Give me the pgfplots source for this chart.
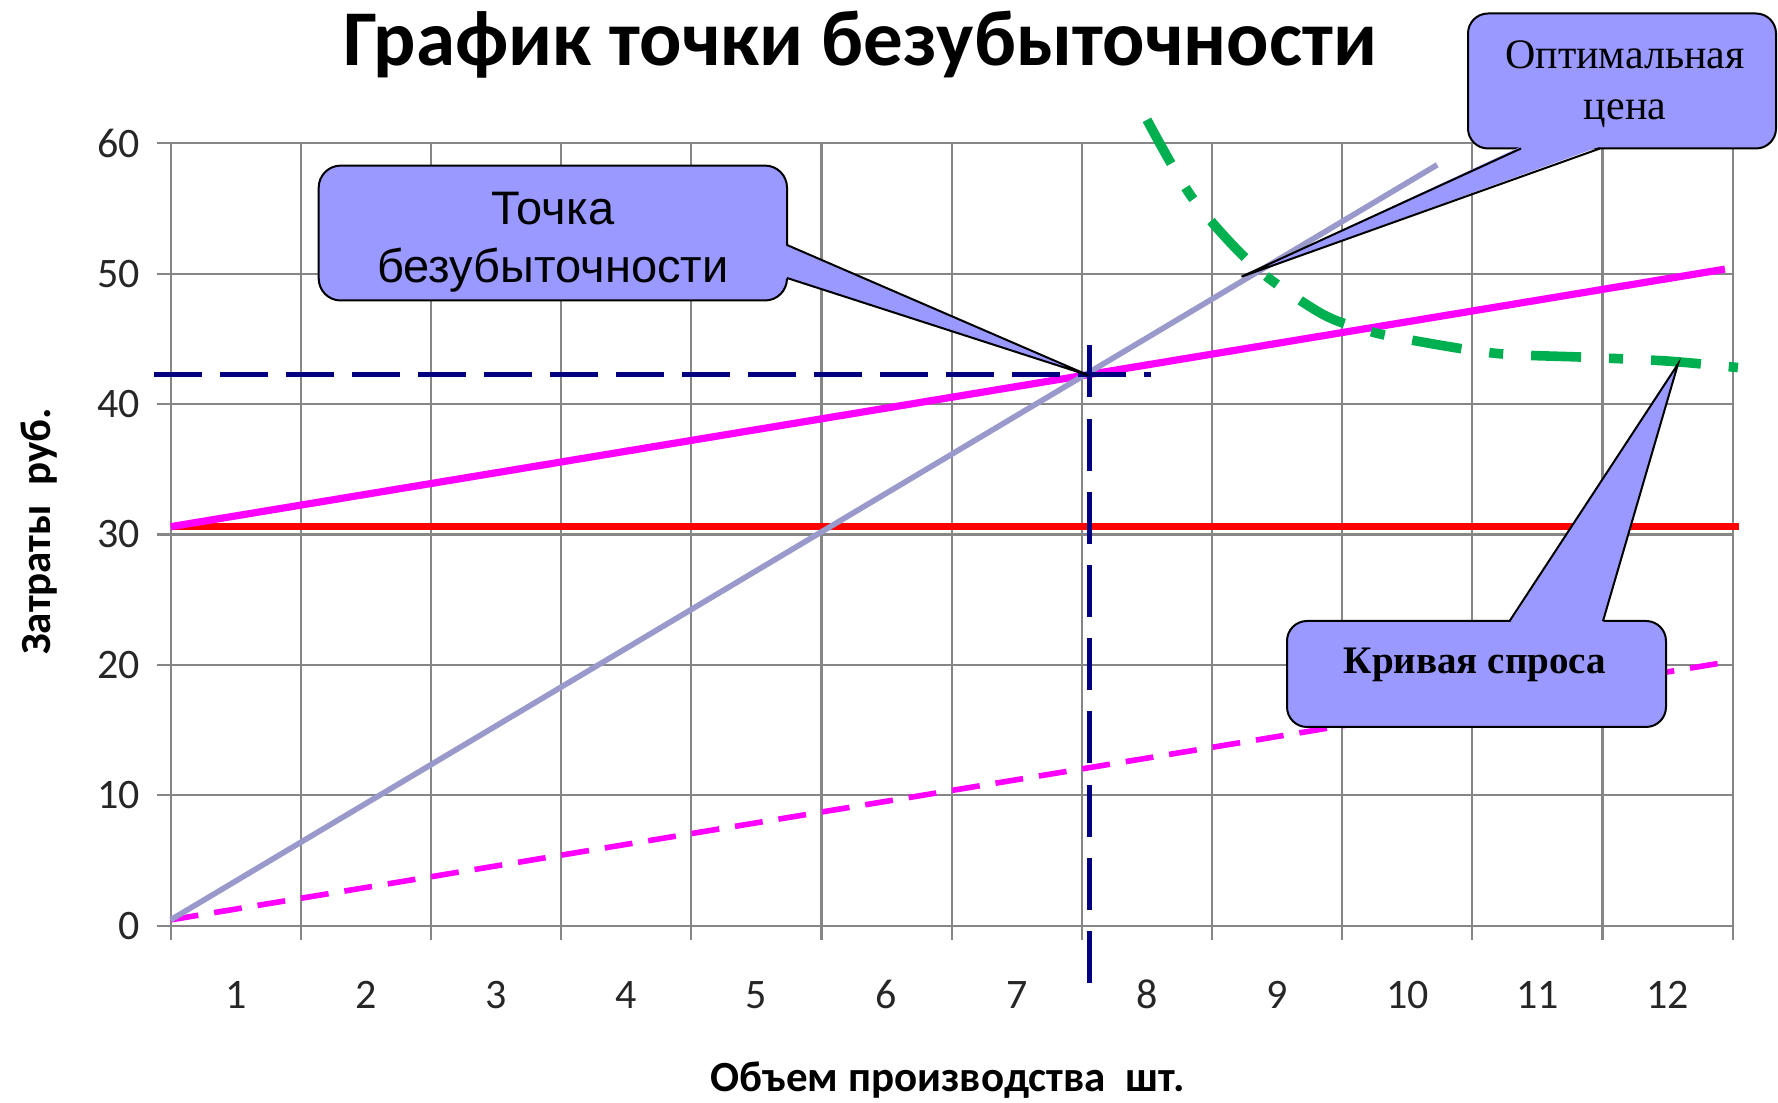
\documentclass[border=0pt]{standalone}
\usepackage{fontspec}
\setmainfont{Carlito}
\newfontfamily\arialfont{Liberation Sans}
\newfontfamily\timesfont{Liberation Serif}
\usepackage{graphicx}
\usepackage{pgfplots}
\pgfplotsset{compat=1.18}

\definecolor{gridgray}{HTML}{868686}
\definecolor{revline}{HTML}{9999CC}
\definecolor{callfill}{HTML}{9999FF}
\definecolor{demand}{HTML}{00B050}
\definecolor{navyline}{HTML}{000080}
\definecolor{pinkline}{HTML}{FF00FF}
\definecolor{redline}{HTML}{FF0000}

\begin{document}
\begin{tikzpicture}
\useasboundingbox (0,0) rectangle (889pt,551.5pt);

\begin{axis}[
    at={(85.35pt,88.65pt)}, anchor=south west,
    scale only axis, width=781pt, height=391.2pt,
    xmin=0, xmax=12, ymin=0, ymax=60,
    clip=false,
    axis line style={draw=gridgray, line width=1.1pt},
    grid style={draw=gridgray, line width=1.1pt},
    xmajorgrids, ymajorgrids,
    tick pos=left,
    tick align=outside,
    major tick length=7pt,
    tick style={draw=gridgray, line width=1.1pt},
    xtick={0,...,12}, xticklabels={,,,,,,,,,,,,},
    ytick={0,10,...,60},
    extra x ticks={0.5,1.5,...,11.5},
    extra x tick labels={1,2,3,4,5,6,7,8,9,10,11,12},
    extra x tick style={grid=none, tick style={draw=none},
        xticklabel style={anchor=base, yshift=-34.5pt}},
    /pgf/number format/assume math mode=true,
    ticklabel style={font=\fontsize{21}{24}\selectfont, text=black!85},
    yticklabel style={anchor=east, xshift=-5pt},
    every axis title shift=0pt,
    title={График точки безубыточности},
    title style={font=\bfseries\fontsize{39.5}{44}\selectfont,
        at={(axis description cs:0.4415,1.0996)}, anchor=base},
    xlabel={Объем производства\ \ шт.},
    xlabel style={font=\bfseries\fontsize{21.5}{24}\selectfont,
        at={(axis description cs:0.4975,-0.2115)}, anchor=base},
    ylabel={Затраты\ \ руб.},
    ylabel style={font=\bfseries\fontsize{21.5}{24}\selectfont,
        at={(axis description cs:-0.077,0.504)}, anchor=base, rotate=0},
]

% постоянные затраты
\addplot[redline, line width=3.8pt] coordinates {(0,30.6) (12.05,30.6)};
% общие затраты
\addplot[pinkline, line width=3.6pt] coordinates {(0,30.6) (11.94,50.35)};
% переменные затраты
\addplot[pinkline, line width=2.8pt, dash pattern=on 14pt off 8pt]
    coordinates {(0,0.45) (11.98,20.26)};
% выручка
\addplot[revline, line width=2.8pt] coordinates {(0,0.45) (9.73,58.35)};
% кривая спроса
\addplot[demand, line width=4.8pt, smooth,
    dash pattern=on 25pt off 14pt on 7pt off 14pt]
    coordinates {
        (7.50,61.8) (7.85,55.8) (8.32,50.6) (8.83,47.0) (9.17,45.7)
        (9.48,45.0) (10.17,43.9) (10.85,43.6) (11.50,43.3) (12.04,42.8)
    };
% точка безубыточности
\addplot[navyline, line width=2.6pt, dash pattern=on 24pt off 9pt]
    coordinates {(-0.13,42.26) (7.53,42.26)};
\addplot[navyline, line width=2.6pt, dash pattern=on 26pt off 10.6pt]
    coordinates {(7.06,-4.4) (7.06,44.5)};

\end{axis}

% выноски, в пикселях исходной картинки
\begin{scope}[shift={(0pt,551.5pt)}, x=0.5pt, y=-0.5pt]
    \filldraw[fill=callfill, draw=black, line width=1pt, rounded corners=11pt]
        (318.7,165.6) rectangle (787,300.5);
    \fill[callfill] (785,245) -- (1088.6,375.4) -- (785,278) -- cycle;
    \draw[line width=1pt] (787,245) -- (1088.6,375.4) -- (787,278);
    \node[font=\arialfont\fontsize{23.5}{28}\selectfont, anchor=base] at (553,225) {Точка};
    \node[font=\arialfont\fontsize{23.5}{28}\selectfont, anchor=base] at (553,283) {безубыточности};

    \filldraw[fill=callfill, draw=black, line width=1pt, rounded corners=10pt]
        (1468,13.5) rectangle (1776,148.5);
    \fill[callfill] (1521,146.5) -- (1241.5,276.7) -- (1600,146.5) -- cycle;
    \draw[line width=1pt] (1521,148.5) -- (1241.5,276.7) -- (1600,148.5);
    \node[font=\timesfont\fontsize{21}{24}\selectfont, anchor=base] at (1625,68.3) {Оптимальная};
    \node[font=\timesfont\fontsize{21}{24}\selectfont, anchor=base] at (1625,120) {цена};

    \filldraw[fill=callfill, draw=black, line width=1pt, rounded corners=10pt]
        (1287,621) rectangle (1666,727);
    \fill[callfill] (1509.6,623) -- (1678,364) -- (1603,623) -- cycle;
    \draw[line width=1pt] (1509.6,621) -- (1678,364) -- (1603,621);
    \node[font=\timesfont\bfseries\fontsize{19.5}{23}\selectfont, anchor=base] at (1475,674) {Кривая спроса};
\end{scope}
\end{tikzpicture}
\end{document}
